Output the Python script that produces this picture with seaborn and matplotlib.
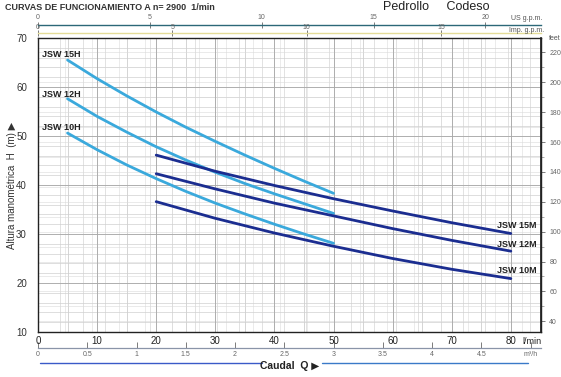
import numpy as np
import pandas as pd
import matplotlib.pyplot as plt
from matplotlib.lines import Line2D
import seaborn as sns

# Curves (Q in l/min, H in m)
q_h = [5, 10, 15, 20, 25, 30, 35, 40, 45, 50]
h_15h = [65.5, 61.7, 58.2, 54.9, 51.8, 48.9, 46.1, 43.4, 40.8, 38.3]
h_12h = [57.6, 54.0, 50.8, 47.8, 45.1, 42.6, 40.3, 38.2, 36.2, 34.2]
h_10h = [50.6, 47.2, 44.1, 41.3, 38.7, 36.3, 34.1, 32.0, 30.0, 28.1]

q_m = [20, 30, 40, 50, 60, 70, 80]
h_15m = [46.1, 42.8, 39.9, 37.2, 34.7, 32.3, 30.1]
h_12m = [42.3, 39.2, 36.3, 33.7, 31.1, 28.7, 26.5]
h_10m = [36.6, 33.2, 30.2, 27.5, 25.0, 22.8, 20.9]

q_ticks = [0, 10, 20, 30, 40, 50, 60, 70, 80]
h_ticks = [10, 20, 30, 40, 50, 60, 70]
us_ticks = [0, 5, 10, 15, 20]
imp_ticks = [0, 5, 10, 15]
m3h_ticks = [0, 0.5, 1, 1.5, 2, 2.5, 3, 3.5, 4, 4.5]
ft_ticks = [40, 60, 80, 100, 120, 140, 160, 180, 200, 220]

light = '#3aa9dc'
dark = '#1b2d90'

rows = []
for name, hs in [('JSW 15H', h_15h), ('JSW 12H', h_12h), ('JSW 10H', h_10h)]:
    for q, h in zip(q_h, hs):
        rows.append((name, q, h))
for name, hs in [('JSW 15M', h_15m), ('JSW 12M', h_12m), ('JSW 10M', h_10m)]:
    for q, h in zip(q_m, hs):
        rows.append((name, q, h))
df = pd.DataFrame(rows, columns=['pump', 'Q', 'H'])
palette = {'JSW 15H': light, 'JSW 12H': light, 'JSW 10H': light,
           'JSW 15M': dark, 'JSW 12M': dark, 'JSW 10M': dark}

sns.set_theme(style='white')
plt.rcParams['font.family'] = ['Liberation Sans', 'DejaVu Sans']

fig = plt.figure(figsize=(5.61, 3.77), dpi=100)
ax = fig.add_axes([38/561, 1-332/377, (541-38)/561, (332-38)/377])

# busy background grid (several unit systems overlapped)
for x in np.arange(0, 86, 5):
    ax.axvline(x, color='#c4c4c4', lw=0.5, zorder=0)
for x in np.arange(0, 23) * 3.785:
    ax.axvline(x, color='#d6d6d6', lw=0.5, zorder=0)
for x in np.arange(0, 19) * 4.546:
    ax.axvline(x, color='#dcdcdc', lw=0.4, zorder=0)
for y in np.arange(10, 71, 2):
    ax.axhline(y, color='#d0d0d0', lw=0.5, zorder=0)
for y in np.arange(40, 230, 10) / 3.281:
    ax.axhline(y, color='#dadada', lw=0.4, zorder=0)
for x in q_ticks:
    ax.axvline(x, color='#a8a8a8', lw=0.6, zorder=0)
for y in h_ticks:
    ax.axhline(y, color='#a8a8a8', lw=0.6, zorder=0)

sns.lineplot(data=df, x='Q', y='H', hue='pump', palette=palette, units='pump',
             estimator=None, lw=2.0, legend=False, ax=ax, zorder=3)

ax.set_xlim(0, 85.1)
ax.set_ylim(10, 70)
ax.set_xticks(q_ticks)
ax.set_yticks(h_ticks)
ax.set_xlabel('')
ax.set_ylabel('')
ax.tick_params(axis='x', length=0, pad=3, labelsize=7, colors='#222222')
ax.tick_params(axis='y', length=0, pad=8, labelsize=7, colors='#333333')
for s in ax.spines.values():
    s.set_color('#222222')
    s.set_linewidth(1.0)

for name, y in [('JSW 15H', 66.7), ('JSW 12H', 58.4), ('JSW 10H', 51.7)]:
    ax.text(0.7, y, name, fontsize=6.5, fontweight='bold', color='#222222', va='center', ha='left')
for name, y in [('JSW 15M', 31.7), ('JSW 12M', 27.9), ('JSW 10M', 22.6)]:
    ax.text(77.6, y, name, fontsize=6.5, fontweight='bold', color='#222222', va='center', ha='left')
ax.text(83.5, 8.0, 'l/min', fontsize=6.5, color='#222222', ha='center', va='center', clip_on=False)

# top secondary axes: US g.p.m. and Imp. g.p.m.
us = ax.secondary_xaxis(1.044, functions=(lambda q: q / 3.785, lambda g: g * 3.785))
us.set_xticks(us_ticks)
us.tick_params(direction='inout', length=4, width=0.6, labelsize=5, colors='#666666', pad=1)
us.spines['top'].set_color('#2c6878')
us.spines['top'].set_linewidth(1.0)
imp = ax.secondary_xaxis(1.016, functions=(lambda q: q / 4.546, lambda g: g * 4.546))
imp.set_xticks(imp_ticks)
imp.tick_params(direction='inout', length=4, width=0.6, labelsize=5, colors='#666666', pad=0)
imp.spines['top'].set_color('#e4dc98')
imp.spines['top'].set_linewidth(1.0)
fig.text(527/561, 1-18/377, 'US g.p.m.', fontsize=5, color='#555555', ha='center', va='center')
fig.text(527/561, 1-30/377, 'Imp. g.p.m.', fontsize=5, color='#555555', ha='center', va='center')

# bottom m3/h axis
m3 = ax.secondary_xaxis(-0.054, functions=(lambda q: q * 0.06, lambda m: m / 0.06))
m3.set_xticks(m3h_ticks + [5.0])
m3.set_xticklabels([str(t) for t in m3h_ticks] + ['m³/h'])
m3.tick_params(direction='in', length=4, width=0.6, labelsize=5, colors='#666666', pad=2)
m3.spines['bottom'].set_color('#8a94a8')
m3.spines['bottom'].set_linewidth(0.9)

# right feet axis
ft = ax.secondary_yaxis('right', functions=(lambda h: h * 3.281, lambda f: f / 3.281))
ft.set_yticks(ft_ticks)
ft.set_yticks(np.arange(30, 230, 10), minor=True)
ft.tick_params(which='major', direction='out', length=3, width=0.6, labelsize=5, colors='#666666', pad=3)
ft.tick_params(which='minor', direction='out', length=2, width=0.5, colors='#888888')
fig.text(549/561, 1-38/377, 'feet', fontsize=5, color='#555555', ha='left', va='center')

# titles and axis names
fig.text(5/561, 1-8/377, 'CURVAS DE FUNCIONAMIENTO A n= 2900  1/min', fontsize=6.5,
         fontweight='bold', color='#333333', ha='left', va='center')
fig.text(436/561, 1-7/377, 'Pedrollo     Codeso', fontsize=9, color='#222222',
         ha='center', va='center')
fig.text(12/561, 1-185/377, 'Altura manométrica  H  (m) ▶', fontsize=7, color='#333333',
         rotation=90, ha='center', va='center')
fig.text(290/561, 1-366/377, 'Caudal  Q ▶', fontsize=7.5, fontweight='bold', color='#222222',
         ha='center', va='center')
fig.add_artist(Line2D([40/561, 262/561], [1-363/377, 1-363/377], color='#3a5ac8', lw=1.0))
fig.add_artist(Line2D([322/561, 528/561], [1-363/377, 1-363/377], color='#3a7ac8', lw=1.0))

fig.savefig('out.png', dpi=100)
